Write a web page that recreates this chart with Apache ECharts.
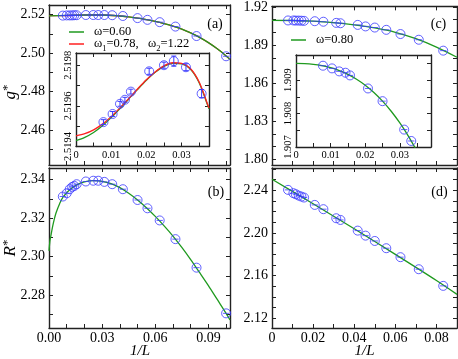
<!DOCTYPE html>
<html>
<head>
<meta charset="utf-8">
<script src="https://cdn.jsdelivr.net/npm/echarts@6/dist/echarts.min.js"></script>
<style>
  html, body { margin: 0; padding: 0; background: #fff; }
  #main { width: 458px; height: 359px; }
</style>
</head>
<body>
<div id="main"></div>
<script>
// ---- data ----
// panels (a) and (b): 1/L values
var xAB = [0.0078, 0.0100, 0.0117, 0.0131, 0.0143, 0.0156, 0.0208, 0.0250, 0.0278, 0.03125, 0.0357, 0.0417, 0.0500, 0.0556, 0.0625, 0.0714, 0.0833, 0.1000];
var gA = [2.5195, 2.5196, 2.5196, 2.5196, 2.5197, 2.5197, 2.5198, 2.5198, 2.5198, 2.5198, 2.5197, 2.5193, 2.5182, 2.5173, 2.5161, 2.5138, 2.5089, 2.4984];
var rB = [2.3312, 2.3329, 2.3350, 2.3362, 2.3367, 2.3376, 2.3390, 2.3394, 2.3394, 2.3388, 2.3376, 2.3350, 2.3294, 2.3251, 2.3188, 2.3091, 2.2943, 2.2706];

var fitAx = [0, 0.01, 0.02, 0.03, 0.04, 0.045, 0.05, 0.055, 0.06, 0.065, 0.07, 0.075, 0.08, 0.085, 0.09, 0.095, 0.1, 0.1022];
var fitAgreen = [2.5194, 2.5196, 2.5198, 2.5198, 2.5193, 2.5188, 2.5182, 2.5174, 2.5165, 2.5154, 2.5141, 2.5125, 2.5105, 2.5082, 2.5055, 2.5023, 2.4986, 2.4968];
var fitAred = [2.51945, 2.51956, 2.5198, 2.5198, 2.5193, 2.5188, 2.5182, 2.5174, 2.5165, 2.5154, 2.5141, 2.5125, 2.5105, 2.5082, 2.5055, 2.5023, 2.4986, 2.4968];

var fitBx = [0, 0.0005, 0.001, 0.002, 0.003, 0.004, 0.006, 0.008, 0.012, 0.016, 0.02, 0.025, 0.03, 0.035, 0.04, 0.045, 0.05, 0.055, 0.06, 0.065, 0.07, 0.075, 0.08, 0.085, 0.09, 0.095, 0.1, 0.1022];
var fitBy = [2.3030, 2.3080, 2.3105, 2.3155, 2.3195, 2.3228, 2.3275, 2.3310, 2.3350, 2.3374, 2.3388, 2.3394, 2.3391, 2.3379, 2.3358, 2.3329, 2.3294, 2.3254, 2.3209, 2.3160, 2.3107, 2.3048, 2.2985, 2.2918, 2.2850, 2.2778, 2.2706, 2.2672];

// panels (c) and (d)
var xCD = [0.0078, 0.0104, 0.0116, 0.0130, 0.0143, 0.0156, 0.0208, 0.0250, 0.03125, 0.0333, 0.0417, 0.0455, 0.0500, 0.0556, 0.0625, 0.0714, 0.0833];
var gC = [1.9094, 1.9094, 1.9093, 1.9093, 1.9092, 1.9091, 1.9088, 1.9084, 1.9075, 1.9072, 1.9059, 1.9047, 1.9038, 1.9020, 1.8987, 1.8942, 1.8856];
var rD = [2.2405, 2.2374, 2.2364, 2.2351, 2.2342, 2.2333, 2.2264, 2.2224, 2.2139, 2.2123, 2.2023, 2.1976, 2.1926, 2.1858, 2.1774, 2.1661, 2.1505];

var fitCx = [0, 0.01, 0.02, 0.03, 0.04, 0.05, 0.06, 0.07, 0.08, 0.09];
var fitCy = [1.9095, 1.90937, 1.90885, 1.90772, 1.90595, 1.90350, 1.90010, 1.89500, 1.88840, 1.88040];
var fitDx = [0, 0.02, 0.04, 0.06, 0.08, 0.09];
var fitDy = [2.2505, 2.2275, 2.2040, 2.1800, 2.1555, 2.1425];

// inset of (a)
var xIA = [0.0078, 0.0104, 0.0125, 0.0139, 0.0156, 0.0208, 0.0250, 0.0278, 0.03125, 0.0357];
var gIA = [2.51952, 2.51956, 2.51961, 2.51963, 2.51967, 2.51977, 2.51980, 2.51982, 2.51979, 2.51966];
var eIA = [0.000012, 0.000012, 0.000012, 0.000012, 0.000012, 0.000015, 0.000015, 0.000025, 0.000017, 0.000020];
var fitIAx = [0, 0.0025, 0.005, 0.0075, 0.01, 0.0125, 0.015, 0.0175, 0.02, 0.0225, 0.025, 0.0275, 0.03, 0.0325, 0.035, 0.0375, 0.0378];
var fitIAgreen = [2.519429, 2.519445, 2.519469, 2.519502, 2.519542, 2.519587, 2.519634, 2.519681, 2.519726, 2.519765, 2.519794, 2.519809, 2.519806, 2.519781, 2.519714, 2.519599, 2.519585];
var fitIAred = [2.519452, 2.519463, 2.519482, 2.519510, 2.519547, 2.519590, 2.519636, 2.519683, 2.519728, 2.519767, 2.519797, 2.519812, 2.519809, 2.519784, 2.519717, 2.519603, 2.519589];

// inset of (c)
var xIC = [0.0078, 0.0104, 0.0125, 0.0143, 0.0156, 0.0208, 0.0250, 0.03125, 0.0333];
var gIC = [1.90943, 1.90935, 1.90926, 1.90922, 1.90914, 1.90875, 1.90837, 1.90752, 1.90718];
var fitICx = [0, 0.0025, 0.005, 0.0075, 0.01, 0.0125, 0.015, 0.0175, 0.02, 0.0225, 0.025, 0.0275, 0.03, 0.0325, 0.035];
var fitICy = [1.909500, 1.909494, 1.909472, 1.909432, 1.909371, 1.909284, 1.909170, 1.909025, 1.908845, 1.908628, 1.908370, 1.908068, 1.907719, 1.907319, 1.906866];

// tick labels
var abXLabels = [0, 0.03, 0.06, 0.09];
var cdXLabels = [0, 0.02, 0.04, 0.06, 0.08];
var aYLabels = [2.46, 2.48, 2.50, 2.52];
var bYLabels = [2.28, 2.30, 2.32, 2.34];
var cYLabels = [1.80, 1.83, 1.86, 1.89, 1.92];
var dYLabels = [2.12, 2.16, 2.20, 2.24];
var iaXLabels = [0, 0.01, 0.02, 0.03];
var iaYLabels = [2.5194, 2.5196, 2.5198];
var icXLabels = [0, 0.01, 0.02, 0.03];
var icYLabels = [1.907, 1.908, 1.909];

// ---- styling ----
var SERIF = 'Liberation Serif';
var GREEN = '#1f9a1f';
var RED = '#ff2020';
var BLUE = '#3a3aff';
var AXC = '#222';
var ERRSYM = 'path://M-10,0A10,10,0,1,1,10,0A10,10,0,1,1,-10,0ZM-7,0L7,0';

function steps(a, b, d) {
  var n = Math.round((b - a) / d), out = [];
  for (var i = 0; i <= n; i++) out.push(+(a + i * d).toFixed(7));
  return out;
}
function zip(xs, ys) { return xs.map(function (x, i) { return [x, ys[i]]; }); }

var fmt2 = function (v) { return v.toFixed(2); };
var fmt0 = function (v) { return v === 0 ? '0' : v.toFixed(2); };

function axis(gi, pos, min, max, ticks, labels, fmt, fs, rot) {
  return {
    type: 'value', gridIndex: gi, position: pos, min: min, max: max,
    axisLine: { show: true, onZero: false, lineStyle: { color: AXC, width: 1.4 } },
    axisTick: { show: true, inside: true, length: 4, customValues: ticks, lineStyle: { color: AXC, width: 1 } },
    axisLabel: {
      show: !!labels, customValues: labels || [], formatter: fmt,
      fontFamily: SERIF, fontSize: fs || 14, color: '#000',
      margin: (pos === 'left' ? (rot ? 2 : 4) : 3), rotate: rot || 0
    },
    splitLine: { show: false }
  };
}

var grids = [
  { left: 49, top: 5, width: 181, height: 160 },    // a
  { left: 49, top: 168, width: 181, height: 160 },  // b
  { left: 272, top: 5, width: 185, height: 160 },   // c
  { left: 272, top: 168, width: 185, height: 160 }, // d
  { left: 76, top: 53, width: 133, height: 93.5, show: true, backgroundColor: '#fff', borderWidth: 0 },  // inset a
  { left: 296, top: 55, width: 135, height: 92, show: true, backgroundColor: '#fff', borderWidth: 0 }    // inset c
];

var xAxes = [], yAxes = [];
function panel(gi, xr, xt, xl, xf, yr, yt, yl, yf, fs, yrot) {
  xAxes.push(axis(gi, 'bottom', xr[0], xr[1], xt, xl, xf, fs));
  xAxes.push(axis(gi, 'top', xr[0], xr[1], xt, null, xf, fs));
  yAxes.push(axis(gi, 'left', yr[0], yr[1], yt, yl, yf, fs, yrot));
  yAxes.push(axis(gi, 'right', yr[0], yr[1], yt, null, yf, fs));
}
panel(0, [0, 0.1022], steps(0, 0.1, 0.01), null, fmt2, [2.442, 2.525], steps(2.45, 2.52, 0.01), aYLabels, fmt2);
panel(1, [0, 0.1022], steps(0, 0.1, 0.01), abXLabels, fmt2, [2.263, 2.346], steps(2.27, 2.34, 0.01), bYLabels, fmt2);
panel(2, [0, 0.09], steps(0, 0.09, 0.01), null, fmt0, [1.7955, 1.9205], steps(1.80, 1.92, 0.01), cYLabels, fmt2);
panel(3, [0, 0.09], steps(0, 0.09, 0.01), cdXLabels, fmt0, [2.111, 2.261], steps(2.12, 2.26, 0.01), dYLabels, fmt2);
panel(4, [0, 0.0378], steps(0, 0.035, 0.005), iaXLabels, fmt0, [2.5194, 2.51986], steps(2.5194, 2.5198, 0.0001), iaYLabels, function (v) { return v.toFixed(4); }, 10.5, 90);
panel(5, [0, 0.039], steps(0, 0.035, 0.005), icXLabels, fmt0, [1.907, 1.90975], steps(1.907, 1.9095, 0.0005), icYLabels, function (v) { return v.toFixed(3); }, 10.5, 90);

function fitLine(gi, xs, ys, color, z) {
  return {
    type: 'line', xAxisIndex: 2 * gi, yAxisIndex: 2 * gi, data: zip(xs, ys),
    showSymbol: false, smooth: 0.3, clip: true, z: z || 2,
    lineStyle: { color: color, width: 1.3 }, silent: true
  };
}
function points(gi, xs, ys, sym) {
  return {
    type: 'scatter', xAxisIndex: 2 * gi, yAxisIndex: 2 * gi, data: zip(xs, ys),
    symbol: sym || ERRSYM, symbolSize: 9, z: 4, silent: true,
    itemStyle: { color: 'rgba(0,0,0,0)', borderColor: BLUE, borderWidth: 1 }
  };
}

var series = [
  fitLine(0, fitAx, fitAred, RED, 2),
  fitLine(0, fitAx, fitAgreen, GREEN, 3),
  points(0, xAB, gA),
  fitLine(1, fitBx, fitBy, GREEN, 3),
  points(1, xAB, rB),
  fitLine(2, fitCx, fitCy, GREEN, 3),
  points(2, xCD, gC),
  fitLine(3, fitDx, fitDy, GREEN, 3),
  points(3, xCD, rD),
  fitLine(4, fitIAx, fitIAgreen, GREEN, 5),
  fitLine(4, fitIAx, fitIAred, RED, 6),
  {
    type: 'custom', xAxisIndex: 8, yAxisIndex: 8, z: 7, silent: true,
    data: xIA.map(function (x, i) { return [x, gIA[i], eIA[i]]; }),
    renderItem: function (params, api) {
      var x = api.value(0), y = api.value(1), e = api.value(2);
      var t = api.coord([x, y + e]), b = api.coord([x, y - e]), w = 2.5;
      var st = { stroke: BLUE, lineWidth: 1 };
      return {
        type: 'group', children: [
          { type: 'line', shape: { x1: t[0], y1: t[1], x2: b[0], y2: b[1] }, style: st },
          { type: 'line', shape: { x1: t[0] - w, y1: t[1], x2: t[0] + w, y2: t[1] }, style: st },
          { type: 'line', shape: { x1: b[0] - w, y1: b[1], x2: b[0] + w, y2: b[1] }, style: st }
        ]
      };
    }
  },
  Object.assign(points(4, xIA, gIA, 'circle'), { z: 8 }),
  fitLine(5, fitICx, fitICy, GREEN, 5),
  Object.assign(points(5, xIC, gIC), { z: 8 })
];

function label(x, y, text, size, extra) {
  var st = { text: text, x: 0, y: 0, fill: '#000', fontFamily: SERIF, fontSize: size || 14, align: 'center', verticalAlign: 'middle' };
  if (extra) Object.assign(st, extra);
  return { type: 'text', x: x, y: y, style: st, z: 20 };
}
var richName = {
  i: { fontFamily: SERIF, fontStyle: 'italic', fontSize: 17, lineHeight: 20 },
  s: { fontFamily: SERIF, fontSize: 13, verticalAlign: 'top', lineHeight: 12 }
};
var richLeg = {
  n: { fontFamily: SERIF, fontSize: 12.5, lineHeight: 18 },
  s: { fontFamily: SERIF, fontSize: 8.5, verticalAlign: 'bottom', lineHeight: 10 }
};

var graphics = [
  label(215, 24, '(a)', 14), label(216, 192, '(b)', 14),
  label(438.5, 24, '(c)', 14), label(439.5, 192, '(d)', 14),
  label(140, 351, '1/L', 15, { fontStyle: 'italic' }),
  label(364.5, 351, '1/L', 15, { fontStyle: 'italic' }),
  Object.assign(label(11, 92, '{i|g}{s|*}', 17, { rich: richName }), { rotation: Math.PI / 2 }),
  Object.assign(label(11, 248, '{i|R}{s|*}', 17, { rich: richName }), { rotation: Math.PI / 2 }),
  // legend of (a)
  { type: 'line', shape: { x1: 69, y1: 32, x2: 84, y2: 32 }, style: { stroke: GREEN, lineWidth: 1.5 }, z: 20 },
  label(94, 32, '{n|ω=0.60}', 12.5, { align: 'left', rich: richLeg }),
  { type: 'line', shape: { x1: 69, y1: 44, x2: 84, y2: 44 }, style: { stroke: RED, lineWidth: 1.5 }, z: 20 },
  label(94, 44, '{n|ω}{s|1}{n|=0.78,   ω}{s|2}{n|=1.22}', 12.5, { align: 'left', rich: richLeg }),
  // legend of (c)
  { type: 'line', shape: { x1: 291, y1: 40, x2: 306, y2: 40 }, style: { stroke: GREEN, lineWidth: 1.5 }, z: 20 },
  label(316, 40, '{n|ω=0.80}', 12.5, { align: 'left', rich: richLeg })
];

var chart = echarts.init(document.getElementById('main'));
chart.setOption({
  animation: false,
  backgroundColor: '#fff',
  grid: grids,
  xAxis: xAxes,
  yAxis: yAxes,
  series: series,
  graphic: graphics
});
</script>
</body>
</html>
